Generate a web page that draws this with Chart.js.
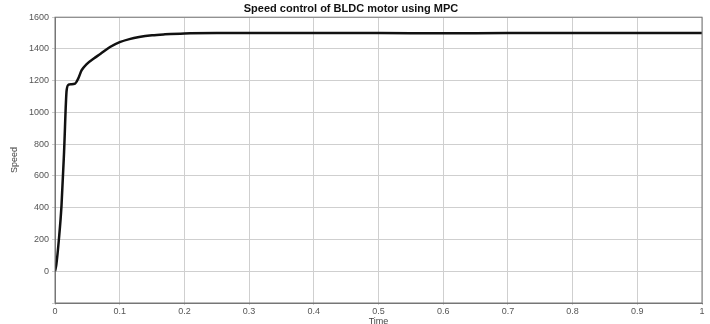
<!DOCTYPE html>
<html>
<head>
<meta charset="utf-8">
<script src="https://cdn.jsdelivr.net/npm/chart.js@4"></script>
<style>
  html, body { margin: 0; padding: 0; background: #fff; }
  #wrap { width: 710px; height: 324px; }
</style>
</head>
<body>
<div id="wrap"><canvas id="speed"></canvas></div>
<script>
// time (s) and motor speed
const timeValues = [0, 0.002, 0.006, 0.01, 0.014, 0.018, 0.021, 0.025, 0.031, 0.036, 0.041, 0.049, 0.06, 0.07, 0.085, 0.1, 0.115, 0.13, 0.15, 0.17, 0.2, 0.25, 0.3, 0.4, 0.5, 0.6, 0.7, 0.8, 0.9, 1];
const speedValues = [0, 40, 200, 410, 750, 1140, 1175, 1178, 1182, 1215, 1265, 1305, 1340, 1368, 1412, 1443, 1462, 1475, 1486, 1492, 1498, 1500, 1500, 1500, 1500, 1499, 1500, 1500, 1500, 1500];
const xTicks = [0, 0.1, 0.2, 0.3, 0.4, 0.5, 0.6, 0.7, 0.8, 0.9, 1];
const yTicks = [0, 200, 400, 600, 800, 1000, 1200, 1400, 1600];

const points = timeValues.map((t, i) => ({ x: t, y: speedValues[i] }));
const ctx = document.getElementById('speed');

new Chart(ctx, {
    type: 'line',
    data: {
        datasets: [{
            label: 'Speed',
            data: points,
            borderColor: '#111',
            borderWidth: 2.5,
            pointRadius: 0,
            cubicInterpolationMode: 'monotone',
            fill: false
        }]
    },
    options: {
        responsive: true,
        maintainAspectRatio: false,
        animation: false,
        layout: { padding: { left: 0, right: 8, top: 0, bottom: 0 } },
        scales: {
            x: {
                type: 'linear',
                min: 0,
                max: 1,
                afterBuildTicks: axis => { axis.ticks = xTicks.map(v => ({ value: v })); },
                afterFit: axis => { axis.height = 21; },
                ticks: {
                    color: '#555',
                    font: { family: 'Liberation Sans', size: 9 },
                    padding: 1,
                    maxRotation: 0,
                    callback: v => String(v)
                },
                grid: { color: '#cfcfcf', tickLength: 2 },
                border: { color: '#777' },
                title: {
                    display: true,
                    text: 'Time',
                    color: '#444',
                    font: { family: 'Liberation Sans', size: 9, lineHeight: 1 },
                    padding: { top: 0, bottom: -2 }
                }
            },
            y: {
                min: -200,
                max: 1600,
                afterBuildTicks: axis => { axis.ticks = [-200].concat(yTicks).map(v => ({ value: v })); },
                afterFit: axis => { axis.width = 55; },
                ticks: {
                    color: '#555',
                    font: { family: 'Liberation Sans', size: 9 },
                    padding: 3,
                    callback: v => (v < 0 ? '' : v)
                },
                grid: { color: '#cfcfcf', tickLength: 3 },
                border: { color: '#777' },
                title: {
                    display: true,
                    text: 'Speed',
                    color: '#444',
                    font: { family: 'Liberation Sans', size: 9 },
                    padding: { top: 9, bottom: 4 }
                }
            }
        },
        plugins: {
            legend: { display: false },
            tooltip: { enabled: false },
            title: {
                display: true,
                text: 'Speed control of BLDC motor using MPC',
                color: '#111',
                font: { family: 'Liberation Sans', size: 11, weight: 'bold' },
                padding: { top: 2, bottom: 2 }
            }
        }
    },
    plugins: [{
        id: 'frame',
        afterDraw(chart) {
            const a = chart.chartArea, c = chart.ctx;
            c.save();
            c.strokeStyle = '#777';
            c.lineWidth = 1;
            c.strokeRect(a.left, a.top, a.right - a.left, a.bottom - a.top);
            c.restore();
        }
    }]
});
</script>
</body>
</html>
